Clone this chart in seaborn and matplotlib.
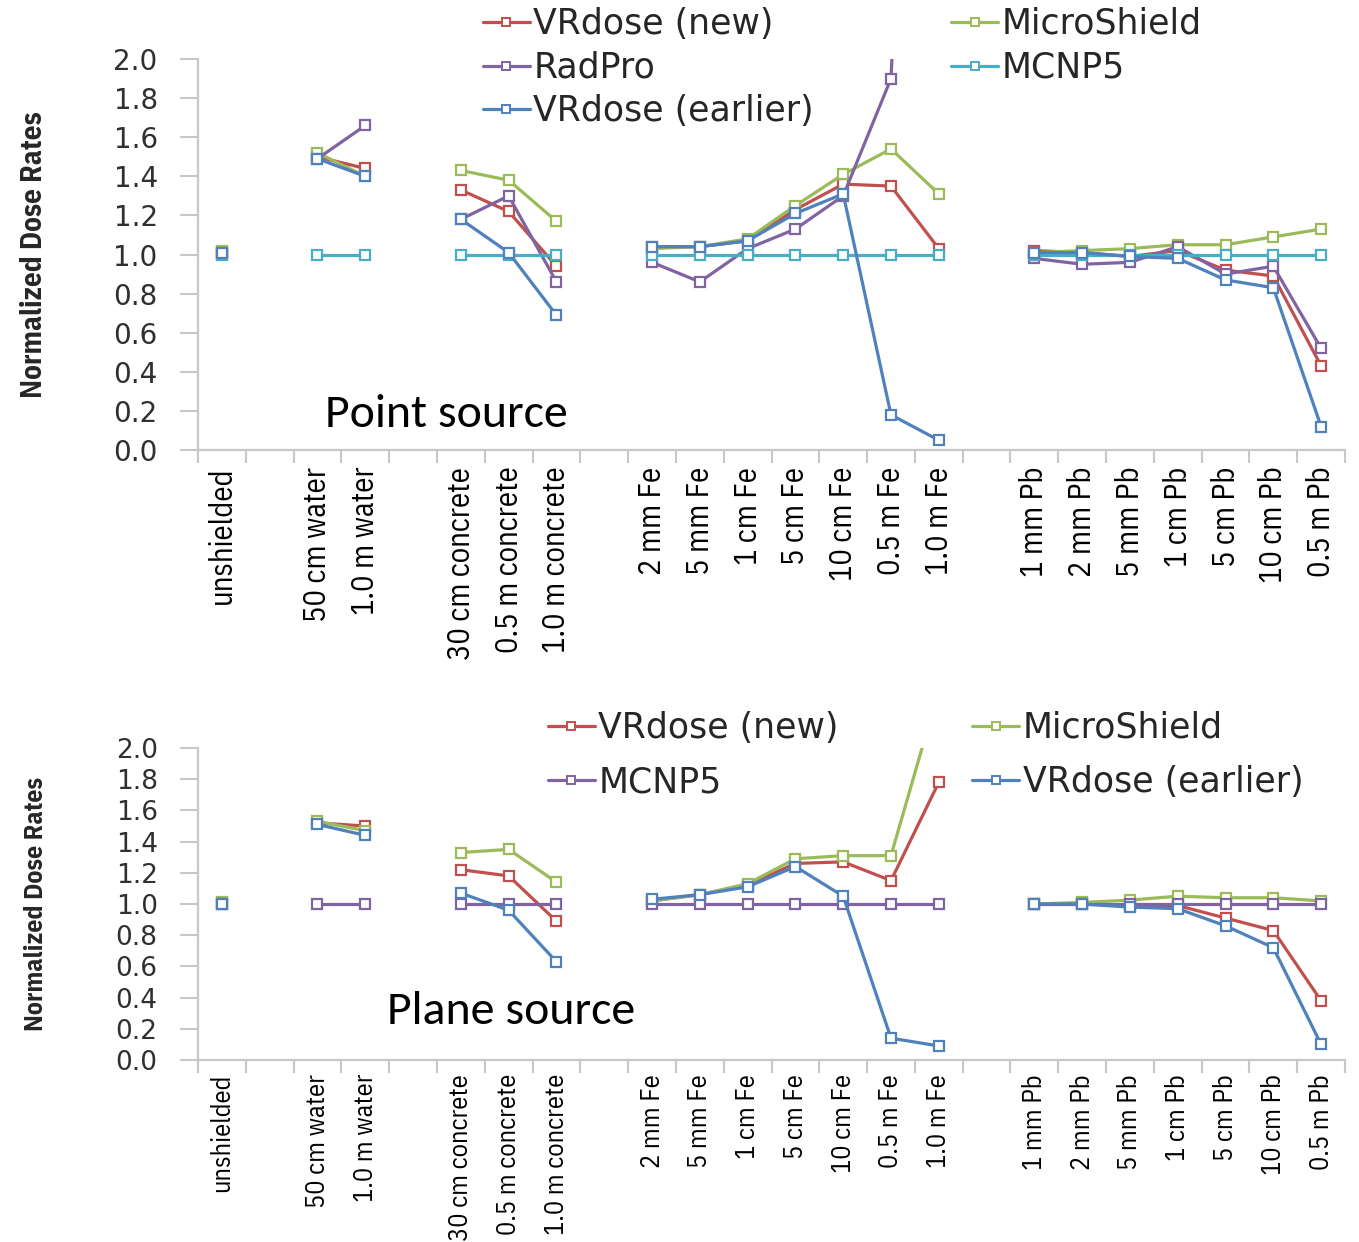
import numpy as np
import pandas as pd
import matplotlib
matplotlib.use("Agg")
import matplotlib.pyplot as plt
import seaborn as sns
from matplotlib.lines import Line2D
from matplotlib.ticker import FixedLocator

# ---------------- data ----------------
categories = ["unshielded", "", "50 cm water", "1.0 m water", "",
              "30 cm concrete", "0.5 m concrete", "1.0 m concrete", "",
              "2 mm Fe", "5 mm Fe", "1 cm Fe", "5 cm Fe", "10 cm Fe", "0.5 m Fe", "1.0 m Fe", "",
              "1 mm Pb", "2 mm Pb", "5 mm Pb", "1 cm Pb", "5 cm Pb", "10 cm Pb", "0.5 m Pb"]

labels = ["unshielded", "50 cm water", "1.0 m water",
          "30 cm concrete", "0.5 m concrete", "1.0 m concrete",
          "2 mm Fe", "5 mm Fe", "1 cm Fe", "5 cm Fe", "10 cm Fe", "0.5 m Fe", "1.0 m Fe",
          "1 mm Pb", "2 mm Pb", "5 mm Pb", "1 cm Pb", "5 cm Pb", "10 cm Pb", "0.5 m Pb"]

groups = ["none", "water", "water",
          "concrete", "concrete", "concrete",
          "Fe", "Fe", "Fe", "Fe", "Fe", "Fe", "Fe",
          "Pb", "Pb", "Pb", "Pb", "Pb", "Pb", "Pb"]

# Point source
point_vrdose_new = [1.01, 1.50, 1.44, 1.33, 1.22, 0.94, 1.04, 1.04, 1.07, 1.23, 1.36, 1.35, 1.03,
                    1.02, 1.01, 0.99, 1.02, 0.92, 0.89, 0.43]
point_microshield = [1.02, 1.52, 1.40, 1.43, 1.38, 1.17, 1.03, 1.04, 1.08, 1.25, 1.41, 1.54, 1.31,
                     1.01, 1.02, 1.03, 1.05, 1.05, 1.09, 1.13]
point_radpro = [1.01, 1.49, 1.66, 1.18, 1.30, 0.86, 0.96, 0.86, 1.03, 1.13, 1.30, 1.90, 7.00,
                0.98, 0.95, 0.96, 1.04, 0.90, 0.94, 0.52]
point_mcnp5 = [1.00, 1.00, 1.00, 1.00, 1.00, 1.00, 1.00, 1.00, 1.00, 1.00, 1.00, 1.00, 1.00,
               1.00, 1.00, 1.00, 1.00, 1.00, 1.00, 1.00]
point_vrdose_earlier = [1.01, 1.49, 1.40, 1.18, 1.01, 0.69, 1.04, 1.04, 1.07, 1.21, 1.31, 0.18, 0.05,
                        1.01, 1.01, 0.99, 0.98, 0.87, 0.83, 0.12]

# Plane source
plane_vrdose_new = [1.00, 1.52, 1.50, 1.22, 1.18, 0.89, 1.02, 1.06, 1.12, 1.26, 1.27, 1.15, 1.78,
                    1.00, 1.00, 0.99, 0.99, 0.91, 0.83, 0.38]
plane_microshield = [1.01, 1.53, 1.47, 1.33, 1.35, 1.14, 1.02, 1.06, 1.13, 1.29, 1.31, 1.31, 2.37,
                     1.00, 1.01, 1.025, 1.05, 1.04, 1.04, 1.02]
plane_mcnp5 = [1.00, 1.00, 1.00, 1.00, 1.00, 1.00, 1.00, 1.00, 1.00, 1.00, 1.00, 1.00, 1.00,
               1.00, 1.00, 1.00, 1.00, 1.00, 1.00, 1.00]
plane_vrdose_earlier = [1.00, 1.51, 1.44, 1.07, 0.96, 0.63, 1.03, 1.06, 1.11, 1.24, 1.05, 0.14, 0.09,
                        1.00, 1.00, 0.98, 0.97, 0.86, 0.72, 0.10]

yticks = [0.0, 0.2, 0.4, 0.6, 0.8, 1.0, 1.2, 1.4, 1.6, 1.8, 2.0]

RED, GREEN, PURPLE, CYAN, BLUE = "#C0504D", "#9BBB59", "#8064A2", "#4BACC6", "#4F81BD"


def long_df(series):
    rows = []
    for name, vals in series.items():
        for lab, g, v in zip(labels, groups, vals):
            rows.append(dict(series=name, pos=categories.index(lab), group=g, value=v))
    return pd.DataFrame(rows)


# ---------------- figure ----------------
sns.set_theme(style="white")
plt.rcParams['font.family'] = ['DejaVu Sans']

fig = plt.figure(figsize=(13.59, 12.42), dpi=100)
W, H = 1359, 1242
ax1 = fig.add_axes([198 / W, 1 - 450 / H, 1147 / W, 391 / H])
ax2 = fig.add_axes([198 / W, 1 - 1060 / H, 1147 / W, 312 / H])

narrow = ['IBM Plex Sans Condensed', 'Open Sans', 'DejaVu Sans']
SPINE = "#C8C8C8"


def draw(ax, series, palette, xfs, yfs, ylfs, xpad):
    df = long_df(series)
    sns.lineplot(data=df, x="pos", y="value", hue="series", units="group", estimator=None,
                 hue_order=list(series.keys()), palette=palette, marker="s", markersize=7.5,
                 linewidth=2.3, legend=False, ax=ax, sort=True)
    for ln in ax.lines:
        c = ln.get_color()
        ln.set_markerfacecolor("white")
        ln.set_markeredgecolor(c)
        ln.set_markeredgewidth(1.6)
    ax.set_xlim(-0.5, len(categories) - 0.5)
    ax.set_ylim(0, 2.0)
    ax.set_xticks(range(len(categories)))
    ax.set_xticklabels(categories, rotation=90, fontsize=xfs, family=narrow, color="black")
    ax.xaxis.set_minor_locator(FixedLocator(np.arange(-0.5, len(categories), 1.0)))
    ax.set_yticks(yticks)
    ax.set_yticklabels([f"{t:.1f}" for t in yticks], fontsize=yfs, color="#303030")
    ax.tick_params(axis="x", which="major", bottom=True, length=0, pad=xpad)
    ax.tick_params(axis="x", which="minor", bottom=True, length=9, width=1.5, color=SPINE,
                   direction="out")
    ax.tick_params(axis="y", which="major", left=True, length=13, width=1.5, color=SPINE,
                   direction="out", pad=16)
    for s in ["top", "right"]:
        ax.spines[s].set_visible(False)
    for s in ["left", "bottom"]:
        ax.spines[s].set_color(SPINE)
        ax.spines[s].set_linewidth(1.6)
    ax.set_xlabel("")
    ax.set_ylabel("Normalized Dose Rates", fontsize=ylfs, fontweight="bold", family=narrow)
    ax.yaxis.set_label_coords(-0.131, 0.5)
    ax.grid(False)


def handle(c):
    return Line2D([], [], color=c, lw=2.3, marker="s", markersize=5.5, markerfacecolor="white",
                  markeredgecolor=c, markeredgewidth=1.4)


# top panel
top_series = {"VRdose (new)": point_vrdose_new, "MicroShield": point_microshield,
              "RadPro": point_radpro, "MCNP5": point_mcnp5,
              "VRdose (earlier)": point_vrdose_earlier}
top_pal = {"VRdose (new)": RED, "MicroShield": GREEN, "RadPro": PURPLE, "MCNP5": CYAN,
           "VRdose (earlier)": BLUE}
draw(ax1, top_series, top_pal, 22, 20, 21, 12)

# bottom panel
bot_series = {"VRdose (new)": plane_vrdose_new, "MicroShield": plane_microshield,
              "MCNP5": plane_mcnp5, "VRdose (earlier)": plane_vrdose_earlier}
bot_pal = {"VRdose (new)": RED, "MicroShield": GREEN, "MCNP5": PURPLE, "VRdose (earlier)": BLUE}
draw(ax2, bot_series, bot_pal, 19, 19, 18.5, 10)

# legends (column-major fill)
top_order = ["VRdose (new)", "RadPro", "VRdose (earlier)", "MicroShield", "MCNP5"]
fig.legend([handle(top_pal[k]) for k in top_order], top_order, ncol=2,
           loc="upper left", bbox_to_anchor=(483 / W, 1 - 7 / H), frameon=False,
           fontsize=25, labelspacing=0.28, handlelength=1.35, handletextpad=0.1,
           columnspacing=3.95, borderpad=0, borderaxespad=0)
bot_order = ["VRdose (new)", "MCNP5", "MicroShield", "VRdose (earlier)"]
fig.legend([handle(bot_pal[k]) for k in bot_order], bot_order, ncol=2,
           loc="upper left", bbox_to_anchor=(548 / W, 1 - 711 / H), frameon=False,
           fontsize=25, labelspacing=0.58, handlelength=1.35, handletextpad=0.1,
           columnspacing=3.85, borderpad=0, borderaxespad=0)

fig.text(446 / W, 1 - 415 / H, "Point source", fontsize=34.5,
         family=["Carlito", "Lato", "DejaVu Sans"], ha="center", va="center", color="black")
fig.text(511 / W, 1 - 1012 / H, "Plane source", fontsize=34.5,
         family=["Carlito", "Lato", "DejaVu Sans"], ha="center", va="center", color="black")

fig.savefig("out.png", dpi=100)
